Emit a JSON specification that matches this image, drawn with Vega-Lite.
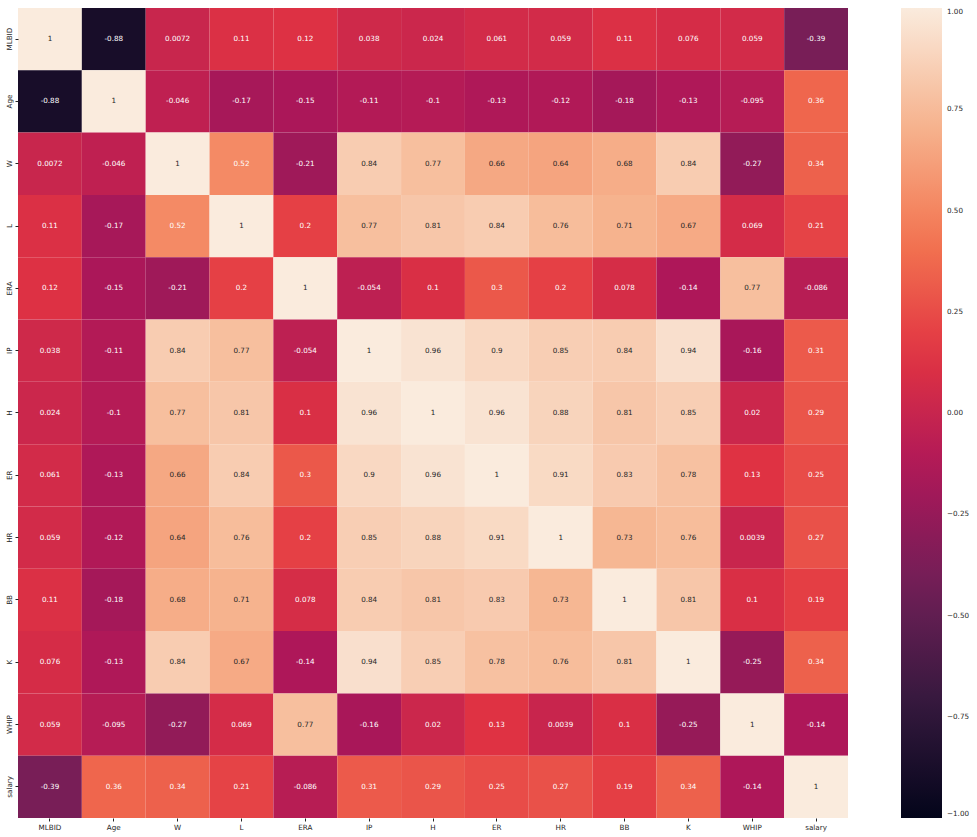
{
  "$schema": "https://vega.github.io/schema/vega-lite/v6.json",
  "autosize": "none",
  "padding": {"left": 18, "top": 8, "right": 129, "bottom": 19},
  "width": 830,
  "height": 810,
  "background": "white",
  "config": {"view": {"stroke": null}, "font": "DejaVu Sans"},
  "datasets": {
    "corr": [
      {"y":"MLBID","x":"MLBID","r":1},{"y":"MLBID","x":"Age","r":-0.88},{"y":"MLBID","x":"W","r":0.0072},{"y":"MLBID","x":"L","r":0.11},{"y":"MLBID","x":"ERA","r":0.12},{"y":"MLBID","x":"IP","r":0.038},{"y":"MLBID","x":"H","r":0.024},{"y":"MLBID","x":"ER","r":0.061},{"y":"MLBID","x":"HR","r":0.059},{"y":"MLBID","x":"BB","r":0.11},{"y":"MLBID","x":"K","r":0.076},{"y":"MLBID","x":"WHIP","r":0.059},{"y":"MLBID","x":"salary","r":-0.39},
      {"y":"Age","x":"MLBID","r":-0.88},{"y":"Age","x":"Age","r":1},{"y":"Age","x":"W","r":-0.046},{"y":"Age","x":"L","r":-0.17},{"y":"Age","x":"ERA","r":-0.15},{"y":"Age","x":"IP","r":-0.11},{"y":"Age","x":"H","r":-0.1},{"y":"Age","x":"ER","r":-0.13},{"y":"Age","x":"HR","r":-0.12},{"y":"Age","x":"BB","r":-0.18},{"y":"Age","x":"K","r":-0.13},{"y":"Age","x":"WHIP","r":-0.095},{"y":"Age","x":"salary","r":0.36},
      {"y":"W","x":"MLBID","r":0.0072},{"y":"W","x":"Age","r":-0.046},{"y":"W","x":"W","r":1},{"y":"W","x":"L","r":0.52},{"y":"W","x":"ERA","r":-0.21},{"y":"W","x":"IP","r":0.84},{"y":"W","x":"H","r":0.77},{"y":"W","x":"ER","r":0.66},{"y":"W","x":"HR","r":0.64},{"y":"W","x":"BB","r":0.68},{"y":"W","x":"K","r":0.84},{"y":"W","x":"WHIP","r":-0.27},{"y":"W","x":"salary","r":0.34},
      {"y":"L","x":"MLBID","r":0.11},{"y":"L","x":"Age","r":-0.17},{"y":"L","x":"W","r":0.52},{"y":"L","x":"L","r":1},{"y":"L","x":"ERA","r":0.2},{"y":"L","x":"IP","r":0.77},{"y":"L","x":"H","r":0.81},{"y":"L","x":"ER","r":0.84},{"y":"L","x":"HR","r":0.76},{"y":"L","x":"BB","r":0.71},{"y":"L","x":"K","r":0.67},{"y":"L","x":"WHIP","r":0.069},{"y":"L","x":"salary","r":0.21},
      {"y":"ERA","x":"MLBID","r":0.12},{"y":"ERA","x":"Age","r":-0.15},{"y":"ERA","x":"W","r":-0.21},{"y":"ERA","x":"L","r":0.2},{"y":"ERA","x":"ERA","r":1},{"y":"ERA","x":"IP","r":-0.054},{"y":"ERA","x":"H","r":0.1},{"y":"ERA","x":"ER","r":0.3},{"y":"ERA","x":"HR","r":0.2},{"y":"ERA","x":"BB","r":0.078},{"y":"ERA","x":"K","r":-0.14},{"y":"ERA","x":"WHIP","r":0.77},{"y":"ERA","x":"salary","r":-0.086},
      {"y":"IP","x":"MLBID","r":0.038},{"y":"IP","x":"Age","r":-0.11},{"y":"IP","x":"W","r":0.84},{"y":"IP","x":"L","r":0.77},{"y":"IP","x":"ERA","r":-0.054},{"y":"IP","x":"IP","r":1},{"y":"IP","x":"H","r":0.96},{"y":"IP","x":"ER","r":0.9},{"y":"IP","x":"HR","r":0.85},{"y":"IP","x":"BB","r":0.84},{"y":"IP","x":"K","r":0.94},{"y":"IP","x":"WHIP","r":-0.16},{"y":"IP","x":"salary","r":0.31},
      {"y":"H","x":"MLBID","r":0.024},{"y":"H","x":"Age","r":-0.1},{"y":"H","x":"W","r":0.77},{"y":"H","x":"L","r":0.81},{"y":"H","x":"ERA","r":0.1},{"y":"H","x":"IP","r":0.96},{"y":"H","x":"H","r":1},{"y":"H","x":"ER","r":0.96},{"y":"H","x":"HR","r":0.88},{"y":"H","x":"BB","r":0.81},{"y":"H","x":"K","r":0.85},{"y":"H","x":"WHIP","r":0.02},{"y":"H","x":"salary","r":0.29},
      {"y":"ER","x":"MLBID","r":0.061},{"y":"ER","x":"Age","r":-0.13},{"y":"ER","x":"W","r":0.66},{"y":"ER","x":"L","r":0.84},{"y":"ER","x":"ERA","r":0.3},{"y":"ER","x":"IP","r":0.9},{"y":"ER","x":"H","r":0.96},{"y":"ER","x":"ER","r":1},{"y":"ER","x":"HR","r":0.91},{"y":"ER","x":"BB","r":0.83},{"y":"ER","x":"K","r":0.78},{"y":"ER","x":"WHIP","r":0.13},{"y":"ER","x":"salary","r":0.25},
      {"y":"HR","x":"MLBID","r":0.059},{"y":"HR","x":"Age","r":-0.12},{"y":"HR","x":"W","r":0.64},{"y":"HR","x":"L","r":0.76},{"y":"HR","x":"ERA","r":0.2},{"y":"HR","x":"IP","r":0.85},{"y":"HR","x":"H","r":0.88},{"y":"HR","x":"ER","r":0.91},{"y":"HR","x":"HR","r":1},{"y":"HR","x":"BB","r":0.73},{"y":"HR","x":"K","r":0.76},{"y":"HR","x":"WHIP","r":0.0039},{"y":"HR","x":"salary","r":0.27},
      {"y":"BB","x":"MLBID","r":0.11},{"y":"BB","x":"Age","r":-0.18},{"y":"BB","x":"W","r":0.68},{"y":"BB","x":"L","r":0.71},{"y":"BB","x":"ERA","r":0.078},{"y":"BB","x":"IP","r":0.84},{"y":"BB","x":"H","r":0.81},{"y":"BB","x":"ER","r":0.83},{"y":"BB","x":"HR","r":0.73},{"y":"BB","x":"BB","r":1},{"y":"BB","x":"K","r":0.81},{"y":"BB","x":"WHIP","r":0.1},{"y":"BB","x":"salary","r":0.19},
      {"y":"K","x":"MLBID","r":0.076},{"y":"K","x":"Age","r":-0.13},{"y":"K","x":"W","r":0.84},{"y":"K","x":"L","r":0.67},{"y":"K","x":"ERA","r":-0.14},{"y":"K","x":"IP","r":0.94},{"y":"K","x":"H","r":0.85},{"y":"K","x":"ER","r":0.78},{"y":"K","x":"HR","r":0.76},{"y":"K","x":"BB","r":0.81},{"y":"K","x":"K","r":1},{"y":"K","x":"WHIP","r":-0.25},{"y":"K","x":"salary","r":0.34},
      {"y":"WHIP","x":"MLBID","r":0.059},{"y":"WHIP","x":"Age","r":-0.095},{"y":"WHIP","x":"W","r":-0.27},{"y":"WHIP","x":"L","r":0.069},{"y":"WHIP","x":"ERA","r":0.77},{"y":"WHIP","x":"IP","r":-0.16},{"y":"WHIP","x":"H","r":0.02},{"y":"WHIP","x":"ER","r":0.13},{"y":"WHIP","x":"HR","r":0.0039},{"y":"WHIP","x":"BB","r":0.1},{"y":"WHIP","x":"K","r":-0.25},{"y":"WHIP","x":"WHIP","r":1},{"y":"WHIP","x":"salary","r":-0.14},
      {"y":"salary","x":"MLBID","r":-0.39},{"y":"salary","x":"Age","r":0.36},{"y":"salary","x":"W","r":0.34},{"y":"salary","x":"L","r":0.21},{"y":"salary","x":"ERA","r":-0.086},{"y":"salary","x":"IP","r":0.31},{"y":"salary","x":"H","r":0.29},{"y":"salary","x":"ER","r":0.25},{"y":"salary","x":"HR","r":0.27},{"y":"salary","x":"BB","r":0.19},{"y":"salary","x":"K","r":0.34},{"y":"salary","x":"WHIP","r":-0.14},{"y":"salary","x":"salary","r":1}
    ]
  },
  "data": {"name": "corr"},
  "encoding": {
    "x": {
      "field": "x", "type": "nominal",
      "sort": ["MLBID","Age","W","L","ERA","IP","H","ER","HR","BB","K","WHIP","salary"],
      "scale": {"paddingInner": 0, "paddingOuter": 0},
      "axis": {"title": null, "domain": false, "labelAngle": 0, "labelFontSize": 7.2, "labelColor": "#262626", "tickColor": "#262626", "tickSize": 3, "labelPadding": 2}
    },
    "y": {
      "field": "y", "type": "nominal",
      "sort": ["MLBID","Age","W","L","ERA","IP","H","ER","HR","BB","K","WHIP","salary"],
      "scale": {"paddingInner": 0, "paddingOuter": 0},
      "axis": {"title": null, "domain": false, "labelAngle": 270, "labelAlign": "center", "labelBaseline": "bottom", "labelFontSize": 7.2, "labelColor": "#262626", "tickColor": "#262626", "tickSize": 3, "labelPadding": 2}
    }
  },
  "layer": [
    {
      "mark": {"type": "rect", "strokeWidth": 0},
      "encoding": {
        "color": {
          "field": "r", "type": "quantitative",
          "scale": {
            "domain": [-1, -0.7143, -0.4286, -0.1429, 0.1429, 0.4286, 0.7143, 1],
            "range": ["#03051a", "#35193e", "#701f57", "#ad1759", "#e13342", "#f37651", "#f6b48f", "#faebdd"],
            "interpolate": "rgb"
          },
          "legend": {
            "title": null,
            "orient": "none",
            "legendX": 883,
            "legendY": 0,
            "direction": "vertical",
            "gradientLength": 810,
            "gradientThickness": 41,
            "gradientStrokeWidth": 0,
            "values": [-1, -0.75, -0.5, -0.25, 0, 0.25, 0.5, 0.75, 1],
            "format": ".2f",
            "labelFontSize": 7.2,
            "labelColor": "#262626",
            "labelOffset": 5,
            "labelOverlap": false
          }
        }
      }
    },
    {
      "mark": {"type": "text", "fontSize": 7.2, "font": "DejaVu Sans"},
      "encoding": {
        "text": {"field": "r", "type": "nominal"},
        "color": {
          "condition": {"test": "datum.r >= 0.6", "value": "#262626"},
          "value": "#ffffff"
        }
      }
    }
  ]
}
